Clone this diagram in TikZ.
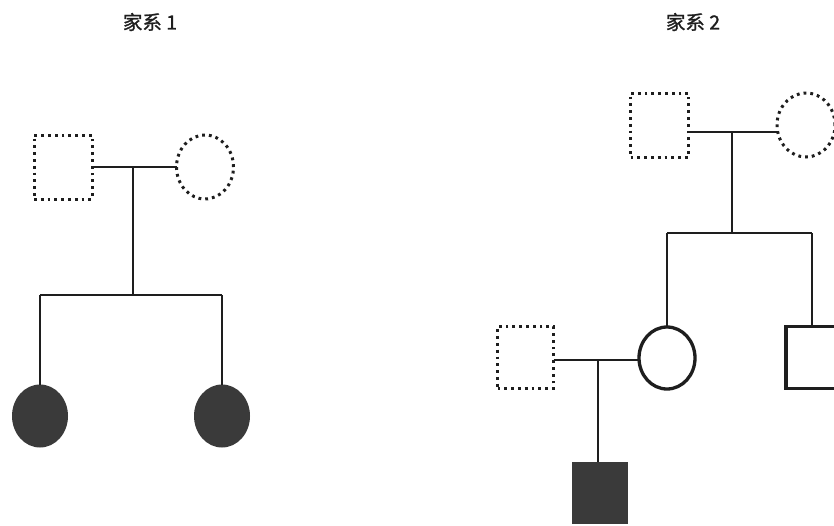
\documentclass[tikz,border=0pt]{standalone}
\usepackage{fontspec}
\newfontfamily\cjk[FakeBold=1.2]{Noto Sans CJK SC}
\usetikzlibrary{shapes.geometric}
\definecolor{ink}{HTML}{1E1E1E}
\definecolor{affected}{HTML}{3A3A3A}
\tikzset{
  person/.style={inner sep=0pt, outer sep=0pt},
  male/.style={person, rectangle, minimum width=58pt, minimum height=64pt},
  female/.style={person, ellipse, minimum width=57pt, minimum height=64pt},
  unknown/.style={draw=ink, line width=3pt, dash pattern=on 2.8pt off 4pt},
  normal/.style={draw=ink, line width=3.3pt},
  sick/.style={fill=affected, draw=none},
  link/.style={draw=ink, line width=1.8pt},
  title/.style={font=\cjk\fontsize{19.5}{22}\selectfont, text=ink}
}
\begin{document}
\begin{tikzpicture}[x=1pt, y=-1pt]
\useasboundingbox (0,0) rectangle (834,525);
\clip (0,0) rectangle (834,525);
\fill[white] (0,0) rectangle (834,525);

% titles
\node[title] (t1) at (150,22) {家系 1};
\node[title] (t2) at (693,22) {家系 2};

% ---- pedigree 1 ----
\node[male, unknown] (p1m) at (63,167) {};
\node[female, unknown] (p1f) at (205,167) {};
\node[female, sick, minimum width=56pt, minimum height=63pt] (p1d1) at (40,416) {};
\node[female, sick, minimum width=56pt, minimum height=63pt] (p1d2) at (222,416) {};
\coordinate (p1j) at (133,167);
\coordinate (p1s) at (133,295);
\draw[link] (p1m.east) -- (p1f.west);
\draw[link] (p1j) -- (p1s);
\draw[link] (p1d1.north |- p1s) -- (p1d2.north |- p1s);
\draw[link] (p1d1.north |- p1s) -- (p1d1.north);
\draw[link] (p1d2.north |- p1s) -- (p1d2.north);

% ---- pedigree 2 ----
\node[male, unknown] (p2m) at (659.5,125) {};
\node[female, unknown, minimum width=58pt] (p2f) at (806,125) {};
\coordinate (p2j) at (732,132);
\coordinate (p2s) at (732,233);
\draw[link] (p2m.east |- p2j) -- (p2f.west |- p2j);
\draw[link] (p2j) -- (p2s);

\node[female, normal, minimum width=56pt, minimum height=62pt] (p2d) at (667,358) {};
\node[male, normal, minimum width=52pt, minimum height=62pt] (p2b) at (812,357.5) {};
\draw[link] (p2d.north |- p2s) -- (p2b.north |- p2s);
\draw[link] (p2d.north |- p2s) -- (p2d.north);
\draw[link] (p2b.north |- p2s) -- (p2b.north);

\node[male, unknown, minimum width=56pt, minimum height=62pt] (p2h) at (525.5,357.5) {};
\coordinate (p2k) at (598,360);
\draw[link] (p2h.east |- p2k) -- (p2d.west |- p2k);
\node[male, sick, minimum width=56pt, minimum height=62pt] (p2c) at (600,493) {};
\draw[link] (p2k) -- (p2c.north -| p2k);
\end{tikzpicture}
\end{document}
